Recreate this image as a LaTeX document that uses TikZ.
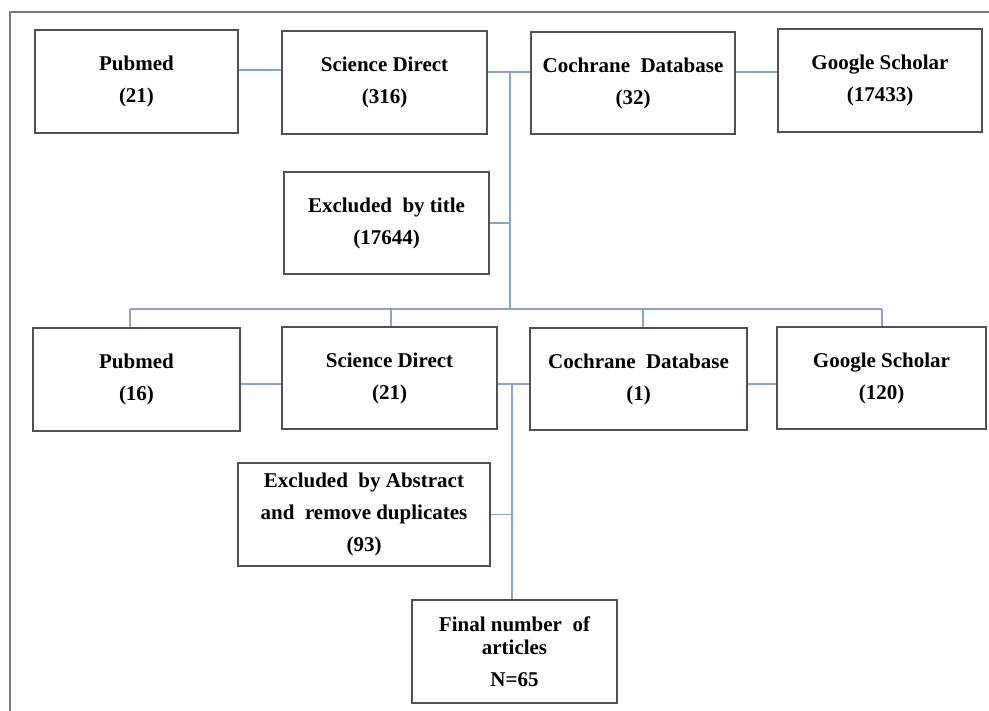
\documentclass[tikz,border=0pt]{standalone}
\usepackage{fontspec}
\setmainfont{Liberation Serif}
\definecolor{conn}{RGB}{135,165,198}
\definecolor{boxline}{RGB}{80,80,80}
\definecolor{framec}{RGB}{125,125,125}
\begin{document}
\begin{tikzpicture}[x=1pt,y=-1pt,
  box/.style={draw=boxline,line width=1.3pt,inner sep=0pt,align=center,
    font=\fontsize{21}{32}\selectfont\bfseries},
  link/.style={draw=conn,line width=1.2pt}]
\useasboundingbox (0,0) rectangle (989,711);
\draw[framec,line width=1.5pt] (10,711) -- (10,12) -- (989,12);
% top row
\node[box,minimum width=203pt,minimum height=103pt] (p1) at (136.5,81.5) {Pubmed\\(21)};
\node[box,minimum width=205pt,minimum height=103pt] (s1) at (384.5,82.5) {Science Direct\\(316)};
\node[box,minimum width=204pt,minimum height=102pt] (c1) at (633,83) {Cochrane\ \ Database\\(32)};
\node[box,minimum width=204pt,minimum height=103pt] (g1) at (880,80.5) {Google Scholar\\(17433)};
\node[box,minimum width=205pt,minimum height=102pt] (e1) at (386.5,223) {Excluded\ \ by title\\(17644)};
% bottom row
\node[box,minimum width=207pt,minimum height=103pt] (p2) at (136.5,379.5) {Pubmed\\(16)};
\node[box,minimum width=215pt,minimum height=102pt] (s2) at (389.5,378) {Science Direct\\(21)};
\node[box,minimum width=217pt,minimum height=102pt] (c2) at (638.5,379) {Cochrane\ \ Database\\(1)};
\node[box,minimum width=209pt,minimum height=102pt] (g2) at (881.5,378) {Google Scholar\\(120)};
\node[box,minimum width=252pt,minimum height=103pt] (e2) at (364,514.5) {Excluded\ \ by Abstract\\and\ \ remove duplicates\\(93)};
\node[box,minimum width=205pt,minimum height=103pt] (f) at (514.5,651.5) {Final number\ \ of\\[-9pt]articles\\N=65};
% coordinates
\coordinate (j1) at (510,72);
\coordinate (bar) at (510,309);
\coordinate (j2) at (512,384);
% top connectors
\path ([yshift=11.5pt]p1.east) coordinate (a1);
\draw[link] (a1) -- (a1 -| s1.west);
\draw[link] (s1.east |- j1) -- (c1.west |- j1);
\draw[link] (c1.east |- j1) -- (g1.west |- j1);
\draw[link] (j1) -- (bar);
\draw[link] (e1.east) -- (e1.east -| j1);
% distribution bar
\path ([xshift=-6.5pt]p2.north) coordinate (d1);
\path ([xshift=1.5pt]s2.north) coordinate (d2);
\path ([xshift=4.5pt]c2.north) coordinate (d3);
\path ([xshift=0.5pt]g2.north) coordinate (d4);
\draw[link] (d1 |- bar) -- (d4 |- bar);
\draw[link] (d1) -- (d1 |- bar);
\draw[link] (d2) -- (d2 |- bar);
\draw[link] (d3) -- (d3 |- bar);
\draw[link] (d4) -- (d4 |- bar);
% bottom connectors
\draw[link] (p2.east |- j2) -- (s2.west |- j2);
\draw[link] (s2.east |- j2) -- (c2.west |- j2);
\draw[link] (c2.east |- j2) -- (g2.west |- j2);
\draw[link] (j2) -- (j2 |- f.north);
\draw[link] (e2.east) -- (e2.east -| j2);
\end{tikzpicture}
\end{document}
